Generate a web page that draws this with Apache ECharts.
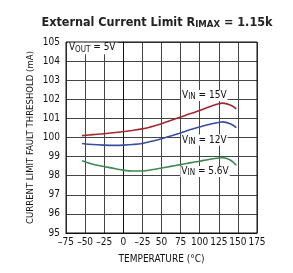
<!DOCTYPE html>
<html><head><meta charset="utf-8">
<script src="https://cdn.jsdelivr.net/npm/echarts@6/dist/echarts.min.js"></script>
<style>html,body{margin:0;padding:0;background:#fff}#c{width:293px;height:273px}</style>
</head><body><div id="c"></div>
<script>
const temps = [-54, -40, -25, -10, 0, 12, 25, 37, 50, 62, 75, 87, 100, 112, 125, 130, 140, 148];
const vin15 = [100.1, 100.15, 100.2, 100.26, 100.31, 100.37, 100.45, 100.57, 100.72, 100.89, 101.07, 101.24, 101.41, 101.6, 101.77, 101.8, 101.7, 101.5];
const vin12 = [99.69, 99.63, 99.6, 99.59, 99.6, 99.63, 99.69, 99.8, 99.93, 100.08, 100.24, 100.4, 100.55, 100.68, 100.79, 100.82, 100.72, 100.52];
const vin56 = [98.78, 98.6, 98.48, 98.36, 98.29, 98.25, 98.25, 98.31, 98.4, 98.49, 98.58, 98.67, 98.76, 98.85, 98.93, 98.94, 98.82, 98.55];
const xTickLabels = ['–75','–50','–25','0','–25','50','75','100','125','150','175'];
const FONT = '"DejaVu Sans Condensed", "Liberation Sans Narrow", "Arial Narrow", sans-serif';
const sub = {fontSize: 8, verticalAlign: 'bottom', padding: [5,0,0,0], fontFamily: FONT, color:'#111'};
const chart = echarts.init(document.getElementById('c'));
function mk(name, data, color, lbl, lx, ly) {
  return {
    type: 'line', name, data: temps.map((t,i)=>[t,data[i]]), smooth: 0.4, symbol: 'none',
    lineStyle: {color, width: 1.6}, z: 3,
    markPoint: {symbol: 'rect', symbolSize: 0, silent: true,
      data: [{coord: [lx, ly], label: {show: true, position: 'inside', formatter: lbl,
        backgroundColor: '#fff', padding: [0,1,0,1], fontFamily: FONT, fontSize: 10, lineHeight: 11, color: '#111',
        rich: {s: sub}}}]}
  };
}
chart.setOption({
  animation: false,
  title: {text: 'External Current Limit R{s|IMAX} = 1.15k', left: 152, top: 10, textAlign: 'center',
    textStyle: {fontFamily: FONT, fontWeight: 'bold', fontSize: 12.5, color: '#222',
      rich: {s: {fontFamily: FONT, fontWeight: 'bold', fontSize: 9.5, color: '#222', verticalAlign: 'bottom', padding:[5,0,0,0]}}}},
  grid: {left: 66, right: 36, top: 42, bottom: 40},
  xAxis: {type: 'value', min: -75, max: 175, interval: 25,
    name: 'TEMPERATURE (°C)', nameLocation: 'middle', nameGap: 21,
    nameTextStyle: {fontFamily: FONT, fontSize: 10, color: '#111'},
    axisLine: {lineStyle: {color: '#111', width: 1}}, axisTick: {show: false},
    axisLabel: {fontFamily: FONT, fontSize: 10, color: '#111', margin: 4,
      formatter: v => xTickLabels[Math.round((v+75)/25)]},
    splitLine: {lineStyle: {color: '#444', width: 1}}},
  yAxis: {type: 'value', min: 95, max: 105, interval: 1,
    name: 'CURRENT LIMIT FAULT THRESHOLD (mA)', nameLocation: 'middle', nameGap: 30, nameMoveOverlap: false,
    nameTextStyle: {fontFamily: FONT, fontSize: 9.5, color: '#111'},
    axisLine: {show: true, lineStyle: {color: '#111', width: 1}}, axisTick: {show: false},
    axisLabel: {fontFamily: FONT, fontSize: 10, color: '#111', margin: 6},
    splitLine: {lineStyle: {color: '#444', width: 1}}},
  graphic: [{type: 'rect', shape: {x: 66, y: 42, width: 191, height: 191}, style: {fill: 'none', stroke: '#111', lineWidth: 1}, z: 10, silent: true}],
  series: [
    mk('15V', vin15, '#9e2a2f', 'V{s|IN} = 15V', 106, 102.2),
    mk('12V', vin12, '#3a4d9e', 'V{s|IN} = 12V', 106, 99.87),
    mk('5.6V', vin56, '#3d8a52', 'V{s|IN} = 5.6V', 107, 98.22),
    {type: 'line', data: [], markPoint: {symbol: 'rect', symbolSize: 0, silent: true,
      data: [{coord: [-72.5, 104.72], label: {show: true, position: 'right', distance: 0, formatter: 'V{s|OUT} = 5V',
        backgroundColor: '#fff', padding: [1,2,0,1], fontFamily: FONT, fontSize: 10, color: '#111', rich: {s: sub}}}]}}
  ]
});
</script></body></html>
